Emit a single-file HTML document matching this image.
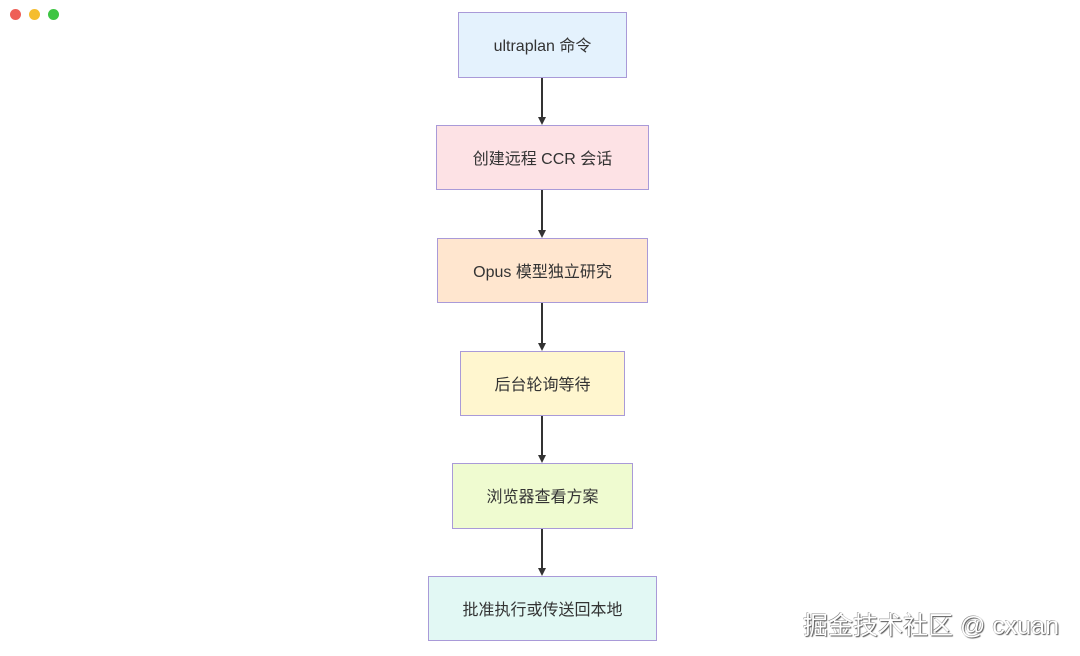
<!DOCTYPE html>
<html><head><meta charset="utf-8"><style>
body{margin:0;width:1080px;height:656px;background:#fff;position:relative;overflow:hidden;font-family:"Liberation Sans","Noto Sans CJK SC",sans-serif}
.b{position:absolute;box-sizing:border-box;border:1px solid #a99ad8;display:flex;align-items:center;justify-content:center;font-size:16px;color:#333;padding-bottom:2px}
.d{position:absolute;top:9px;width:11px;height:11px;border-radius:50%}
.l{position:absolute;left:541px;width:1.5px;background:#333}
.a{position:absolute;left:538px;width:0;height:0;border-left:4.5px solid transparent;border-right:4.5px solid transparent;border-top:8px solid #333}
</style></head><body>
<div class="d" style="left:10px;background:#ee5f57"></div>
<div class="d" style="left:29px;background:#f5bd2f"></div>
<div class="d" style="left:48px;background:#3ec543"></div>
<div class="b" style="left:458px;top:12px;width:169px;height:66px;background:#e4f2fd">ultraplan 命令</div>
<div class="b" style="left:436px;top:125px;width:213px;height:65px;background:#fde2e5">创建远程 CCR 会话</div>
<div class="b" style="left:437px;top:238px;width:211px;height:65px;background:#ffe6cf">Opus 模型独立研究</div>
<div class="b" style="left:460px;top:351px;width:165px;height:65px;background:#fff6cf">后台轮询等待</div>
<div class="b" style="left:452px;top:463px;width:181px;height:66px;background:#effbd0">浏览器查看方案</div>
<div class="b" style="left:428px;top:576px;width:229px;height:65px;background:#e2f8f4">批准执行或传送回本地</div>
<div class="l" style="top:78px;height:40px"></div><div class="a" style="top:117px"></div>
<div class="l" style="top:190px;height:41px"></div><div class="a" style="top:230px"></div>
<div class="l" style="top:303px;height:41px"></div><div class="a" style="top:343px"></div>
<div class="l" style="top:416px;height:40px"></div><div class="a" style="top:455px"></div>
<div class="l" style="top:529px;height:40px"></div><div class="a" style="top:568px"></div>
<div style="position:absolute;left:803px;top:606px;font-size:25px;color:#fff;text-shadow:1px 1px 1px #555,-0.5px -0.5px 0 #888;white-space:nowrap">掘金技术社区 @ cxuan</div>
</body></html>
